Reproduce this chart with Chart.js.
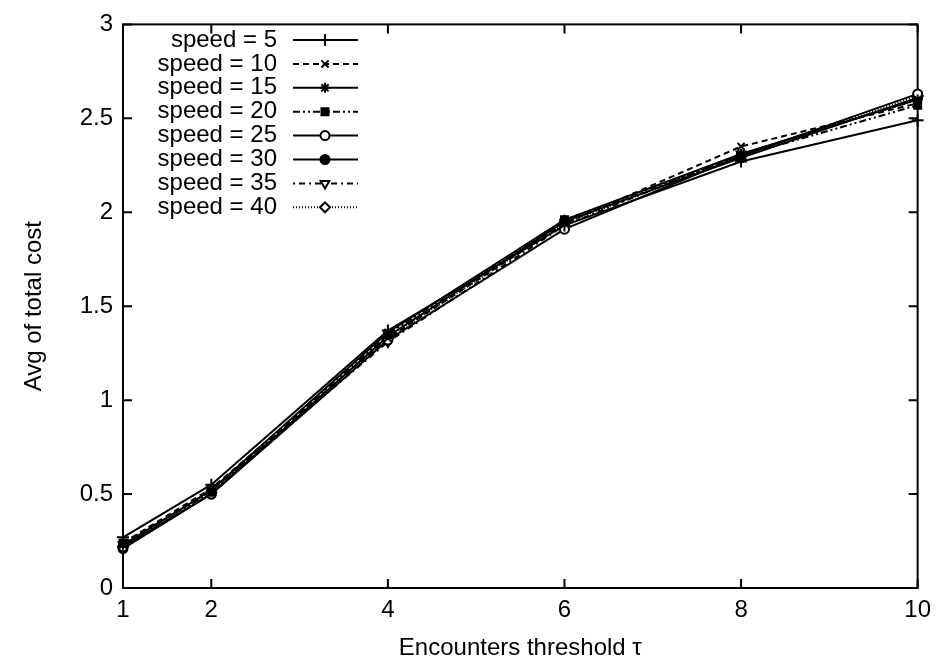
<!DOCTYPE html>
<html>
<head>
<meta charset="utf-8">
<script src="https://cdn.jsdelivr.net/npm/chart.js@4"></script>
<style>
html, body { margin:0; padding:0; background:#fff; }
</style>
</head>
<body>
<canvas id="chart1" width="939" height="668"></canvas>
<script>
// x values (encounter threshold) and tick labels
const thresholds = [1, 2, 4, 6, 8, 10];
const xTicks = [1, 2, 4, 6, 8, 10];
const yTicks = [0, 0.5, 1, 1.5, 2, 2.5, 3];

// avg of total cost per speed
const speed5  = [0.27, 0.55, 1.37, 1.93, 2.27, 2.49];
const speed10 = [0.24, 0.53, 1.33, 1.94, 2.35, 2.58];
const speed15 = [0.23, 0.52, 1.36, 1.96, 2.31, 2.60];
const speed20 = [0.24, 0.51, 1.35, 1.96, 2.30, 2.57];
const speed25 = [0.22, 0.50, 1.32, 1.91, 2.30, 2.63];
const speed30 = [0.21, 0.50, 1.34, 1.95, 2.29, 2.61];
const speed35 = [0.23, 0.52, 1.31, 1.93, 2.31, 2.60];
const speed40 = [0.22, 0.51, 1.33, 1.94, 2.30, 2.62];

const seriesNames = ['speed = 5', 'speed = 10', 'speed = 15', 'speed = 20',
                     'speed = 25', 'speed = 30', 'speed = 35', 'speed = 40'];
const seriesValues = [speed5, speed10, speed15, speed20, speed25, speed30, speed35, speed40];

// line / marker style per series (gnuplot look)
const styles = [
	{dash: [],                 point: 'cross',    radius: 6, fill: false, rot: 0},
	{dash: [6, 4],             point: 'crossRot', radius: 5, fill: false, rot: 0},
	{dash: [],                 point: 'star',     radius: 5, fill: false, rot: 0},
	{dash: [7, 3, 2, 3, 2, 3], point: 'rect',     radius: 5, fill: true,  rot: 0},
	{dash: [],                 point: 'circle',   radius: 4.5, fill: false, rot: 0},
	{dash: [],                 point: 'circle',   radius: 4.5, fill: true,  rot: 0},
	{dash: [2, 4, 6, 4],       point: 'triangle', radius: 5, fill: false, rot: 180},
	{dash: [1, 2],             point: 'rectRot',  radius: 5, fill: false, rot: 0}
];

const FONT = {family: "'Liberation Sans', Arial, sans-serif", size: 24};

const datasets = [];
for(let i=0; i<=seriesValues.length-1; i++) {
	const st = styles[i];
	datasets.push({
		label: seriesNames[i],
		data: thresholds.map((x, j) => ({x: x, y: seriesValues[i][j]})),
		borderColor: '#000',
		backgroundColor: st.fill ? '#000' : '#fff',
		borderWidth: 2,
		borderDash: st.dash,
		pointStyle: st.point,
		pointRadius: st.radius,
		pointRotation: st.rot,
		pointBorderWidth: 2,
		pointBorderColor: '#000',
		pointBackgroundColor: st.fill ? '#000' : '#fff',
		tension: 0,
		fill: false,
		clip: false
	});
}

// frame + inward ticks like gnuplot
const framePlugin = {
	id: 'frame',
	beforeDatasetsDraw(chart) {
		const ctx = chart.ctx;
		const a = chart.chartArea;
		const xs = chart.scales.x, ys = chart.scales.y;
		ctx.save();
		ctx.strokeStyle = '#000';
		ctx.lineWidth = 2;
		ctx.strokeRect(a.left, a.top, a.right - a.left, a.bottom - a.top);
		const len = 9;
		ctx.beginPath();
		xTicks.forEach(v => {
			const px = xs.getPixelForValue(v);
			ctx.moveTo(px, a.bottom); ctx.lineTo(px, a.bottom - len);
			ctx.moveTo(px, a.top); ctx.lineTo(px, a.top + len);
		});
		yTicks.forEach(v => {
			const py = ys.getPixelForValue(v);
			ctx.moveTo(a.left, py); ctx.lineTo(a.left + len, py);
			ctx.moveTo(a.right, py); ctx.lineTo(a.right - len, py);
		});
		ctx.stroke();
		ctx.restore();
	}
};

// legend: text right aligned, then line sample with marker
const keyPlugin = {
	id: 'key',
	afterDatasetsDraw(chart) {
		const ctx = chart.ctx;
		const textRight = 277, lineL = 293, lineR = 358, top = 40, step = 23.9;
		ctx.save();
		ctx.font = FONT.size + 'px ' + FONT.family;
		ctx.textAlign = 'right';
		ctx.textBaseline = 'middle';
		chart.data.datasets.forEach((ds, i) => {
			const y = top + i * step;
			ctx.fillStyle = '#000';
			ctx.fillText(ds.label, textRight, y);
			ctx.strokeStyle = '#000';
			ctx.lineWidth = ds.borderWidth;
			ctx.setLineDash(ds.borderDash);
			ctx.beginPath();
			ctx.moveTo(lineL, y); ctx.lineTo(lineR, y);
			ctx.stroke();
			ctx.setLineDash([]);
			ctx.fillStyle = ds.pointBackgroundColor;
			ctx.lineWidth = ds.pointBorderWidth;
			Chart.helpers.drawPoint(ctx, {
				pointStyle: ds.pointStyle,
				radius: ds.pointRadius,
				rotation: ds.pointRotation,
				borderWidth: ds.pointBorderWidth
			}, (lineL + lineR) / 2 - 0.5, y);
		});
		ctx.restore();
	}
};

const myChart = new Chart('chart1', {
	type: 'line',
	data: { datasets: datasets },
	plugins: [framePlugin, keyPlugin],
	options: {
		responsive: false,
		animation: false,
		devicePixelRatio: 1,
		layout: { padding: {left: 0, right: 19, top: 19, bottom: 0} },
		plugins: {
			legend: { display: false },
			tooltip: { enabled: false }
		},
		scales: {
			x: {
				type: 'linear',
				min: 1,
				max: 10,
				afterBuildTicks: s => { s.ticks = xTicks.map(v => ({value: v})); },
				afterFit: s => { s.height = 80; },
				grid: { display: false, drawTicks: false },
				border: { display: false },
				ticks: { color: '#000', font: FONT, padding: 8, autoSkip: false, maxRotation: 0,
					callback: v => String(v) },
				title: {
					display: true,
					text: 'Encounters threshold \u03c4',
					color: '#000',
					font: FONT,
					padding: {top: 0, bottom: 5}
				}
			},
			y: {
				min: 0,
				max: 3,
				afterBuildTicks: s => { s.ticks = yTicks.map(v => ({value: v})); },
				afterFit: s => { s.width = 123; },
				grid: { display: false, drawTicks: false },
				border: { display: false },
				ticks: { color: '#000', font: FONT, padding: 10, callback: v => String(v) },
				title: {
					display: true,
					text: 'Avg of total cost',
					color: '#000',
					font: FONT,
					padding: {top: 20, bottom: 0}
				}
			}
		}
	}
});
</script>
</body>
</html>
